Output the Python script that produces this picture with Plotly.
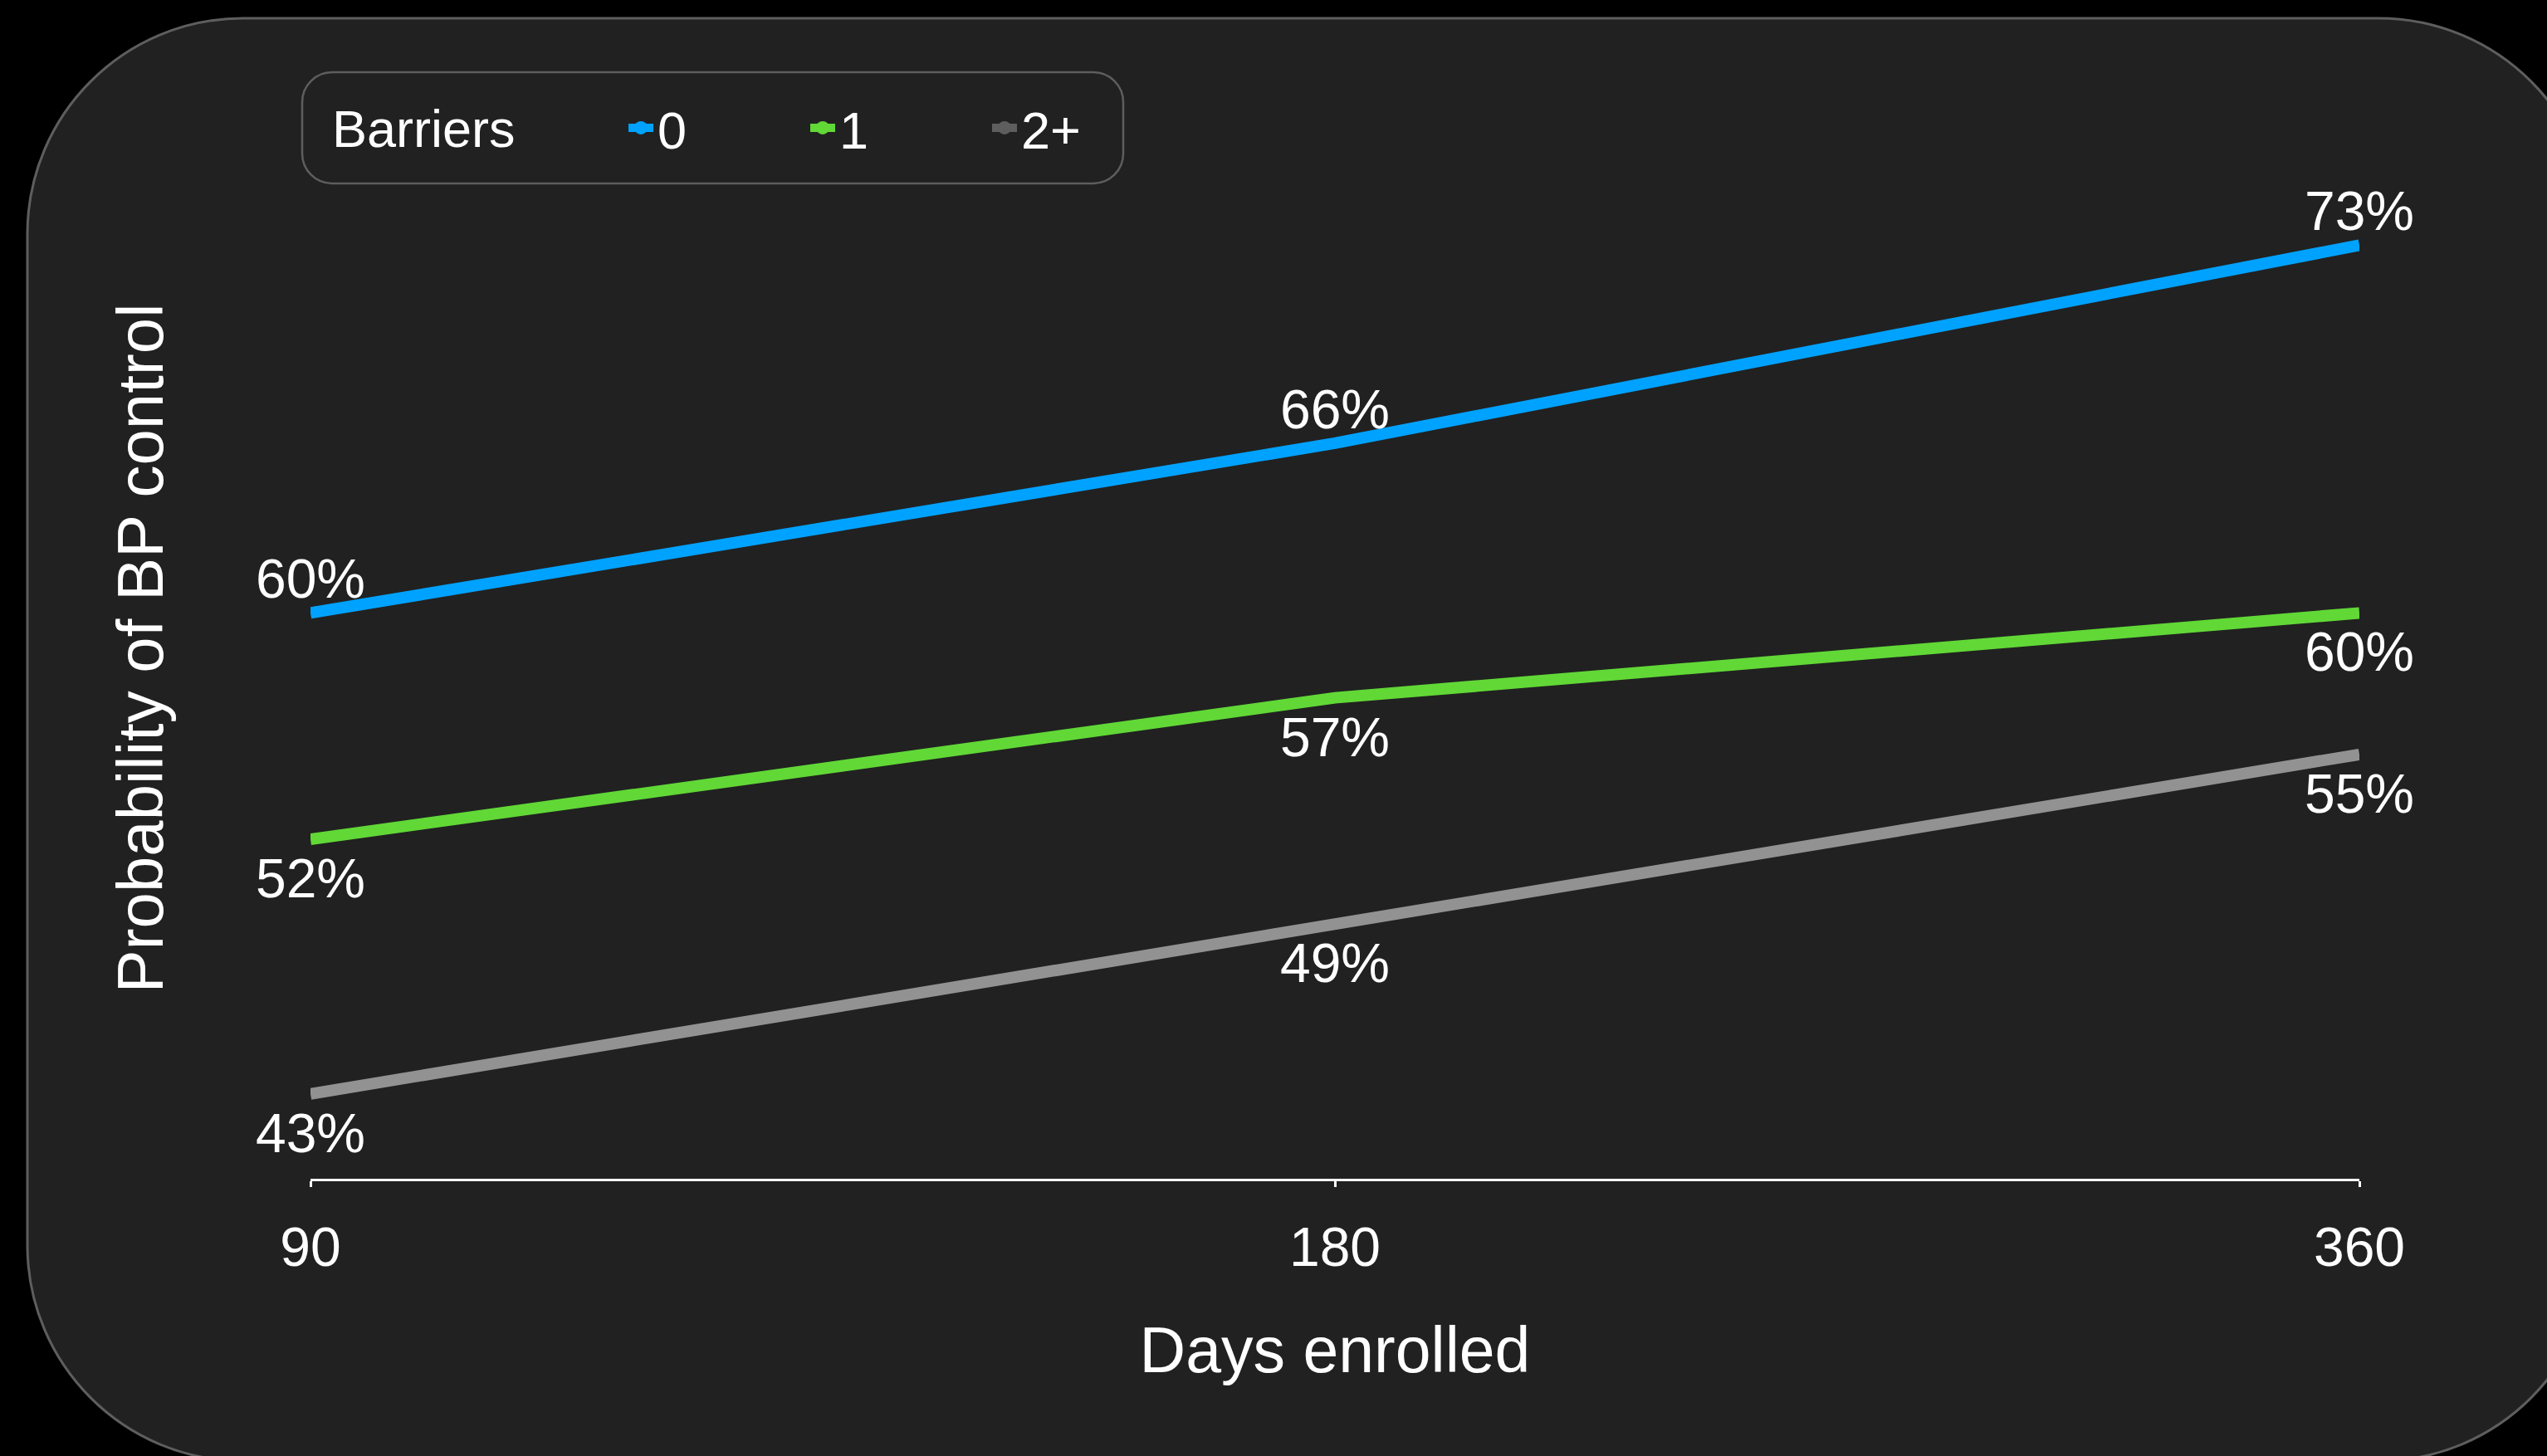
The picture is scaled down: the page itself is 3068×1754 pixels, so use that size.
import plotly.graph_objects as go

# ---- data ----
days = ["90", "180", "360"]
barrier_groups = ["0", "1", "2+"]
prob_0 = [60, 66, 73]
prob_1 = [52, 57, 60]
prob_2plus = [43, 49, 55]

line_colors = ["#00A2FF", "#61D836", "#929292"]
legend_colors = ["#00A2FF", "#61D836", "#5E5E5E"]
label_positions = ["top center", "bottom center", "bottom center"]
label_gap_sizes = [1, 31, 31]   # invisible marker size -> distance of the value label from the line

# ---- layout geometry (pixels) ----
W, H = 3068, 1754
L, R, T, B = 374, 226, 142, 334
PW, PH = W - L - R, H - T - B
FONT = "Liberation Sans, Arial, Helvetica, sans-serif"


def to_paper(x, y):
    return (x - L) / PW, (H - B - y) / PH


def rounded_rect_path(x0, y0, x1, y1, r):
    k = 0.5523 * r
    pts = [
        ("M", [(x0 + r, y0)]),
        ("L", [(x1 - r, y0)]),
        ("C", [(x1 - r + k, y0), (x1, y0 + r - k), (x1, y0 + r)]),
        ("L", [(x1, y1 - r)]),
        ("C", [(x1, y1 - r + k), (x1 - r + k, y1), (x1 - r, y1)]),
        ("L", [(x0 + r, y1)]),
        ("C", [(x0 + r - k, y1), (x0, y1 - r + k), (x0, y1 - r)]),
        ("L", [(x0, y0 + r)]),
        ("C", [(x0, y0 + r - k), (x0 + r - k, y0), (x0 + r, y0)]),
    ]
    s = ""
    for cmd, coords in pts:
        s += cmd + " " + " ".join("%.5f,%.5f" % to_paper(px, py) for px, py in coords) + " "
    return s + "Z"


series = [prob_0, prob_1, prob_2plus]

fig = go.Figure()
for name, vals, col, pos, gap in zip(barrier_groups, series, line_colors, label_positions, label_gap_sizes):
    fig.add_trace(go.Scatter(
        x=days, y=vals, mode="lines+markers+text", name=name,
        line=dict(color=col, width=14),
        marker=dict(size=gap, color=col, opacity=0),
        text=[f"{v}%" for v in vals], textposition=pos,
        textfont=dict(size=66, color="white", family=FONT),
        showlegend=False, cliponaxis=False, hoverinfo="skip",
    ))

# legend entries
for name, col in zip(barrier_groups, legend_colors):
    fig.add_trace(go.Scatter(
        x=[None], y=[None], mode="lines+markers", name=name,
        line=dict(color=col, width=10),
        marker=dict(color=col, size=16),
        showlegend=True,
    ))

shapes = [
    dict(type="path", xref="paper", yref="paper",
         path=rounded_rect_path(33, 22, 3125, 1760, 260),
         fillcolor="#212121", line=dict(color="#5E5E5E", width=3), layer="below"),
    dict(type="path", xref="paper", yref="paper",
         path=rounded_rect_path(364, 87, 1353, 221, 36),
         fillcolor="#212121", line=dict(color="#5E5E5E", width=2.5), layer="below"),
]

lx, ly = to_paper(752, 154)
tx, ty = to_paper(398, 155)

fig.update_layout(
    width=W, height=H,
    margin=dict(l=L, r=R, t=T, b=B, autoexpand=False),
    paper_bgcolor="black", plot_bgcolor="rgba(0,0,0,0)",
    font=dict(family=FONT, color="white"),
    shapes=shapes,
    annotations=[dict(
        text="Barriers", xref="paper", yref="paper", x=tx, y=ty,
        xanchor="left", yanchor="middle", showarrow=False,
        font=dict(size=63, color="white", family=FONT),
    )],
    showlegend=True,
    legend=dict(
        orientation="h", x=lx, xanchor="left", y=ly, yanchor="middle",
        font=dict(size=63, color="white", family=FONT),
        bgcolor="rgba(0,0,0,0)", borderwidth=0,
        entrywidth=174, entrywidthmode="pixels", itemsizing="trace",
        traceorder="normal",
    ),
    xaxis=dict(
        type="category", categoryorder="array", categoryarray=days,
        range=[0, 2], showgrid=False, zeroline=False,
        showline=True, linecolor="white", linewidth=3,
        ticks="outside", ticklen=7, tickwidth=3, tickcolor="white",
        ticklabelstandoff=16,
        tickfont=dict(size=66, color="white", family=FONT),
        title=dict(text="Days enrolled", font=dict(size=77, color="white", family=FONT), standoff=61),
        automargin=False,
    ),
    xaxis2=dict(
        overlaying="x", anchor="y", range=[0, 2], tickvals=[0, 1, 2],
        ticks="inside", ticklen=7, tickwidth=3, tickcolor="white",
        showticklabels=False, showline=False, showgrid=False, zeroline=False,
    ),
    yaxis=dict(
        range=[40, 77.5], showgrid=False, zeroline=False, showline=False,
        showticklabels=False, ticks="",
        title=dict(text="Probability of BP control", font=dict(size=78, color="white", family=FONT), standoff=150),
        automargin=False,
    ),
)

fig.write_html("out.html")
